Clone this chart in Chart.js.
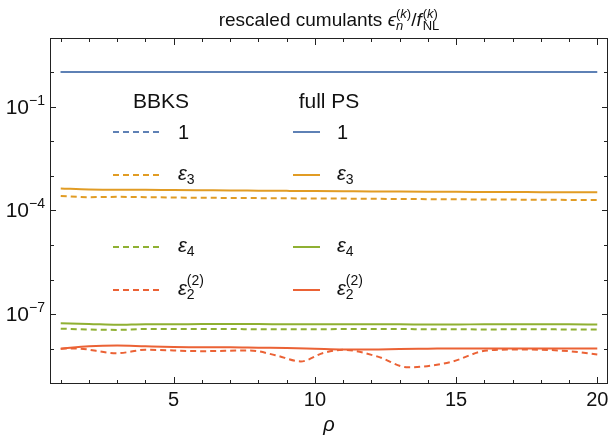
<!DOCTYPE html>
<html>
<head>
<meta charset="utf-8">
<script src="https://cdn.jsdelivr.net/npm/chart.js@4/dist/chart.umd.min.js"></script>
<style>
  body { margin: 0; background: #fff; }
  canvas { display: block; }
</style>
</head>
<body>
<canvas id="chart" width="610" height="447"></canvas>
<script>
// rho values (x)
const RHO = [1, 2, 3, 4, 5, 6, 7, 8, 9, 10, 11, 12, 13, 14, 15, 16, 17, 18, 19, 20];
// the BBKS eps2^(2) curve wiggles more, so it gets its own sampling
const RHO_BBKS_EPS22 = [1, 1.5, 3, 4, 6, 7.7, 8.6, 9.5, 10.3, 11, 12.2, 13.3, 14.8, 16.1, 17.4, 19, 20];

// BBKS (dashed)
const BBKS_ONE = [1, 1, 1, 1, 1, 1, 1, 1, 1, 1, 1, 1, 1, 1, 1, 1, 1, 1, 1, 1];
const BBKS_EPS3 = [2.6e-4, 2.4e-4, 2.45e-4, 2.4e-4, 2.35e-4, 2.3e-4, 2.28e-4, 2.25e-4, 2.22e-4, 2.2e-4,
                   2.18e-4, 2.15e-4, 2.13e-4, 2.1e-4, 2.08e-4, 2.06e-4, 2.04e-4, 2.02e-4, 2.0e-4, 2.0e-4];
const BBKS_EPS4 = [3.8e-8, 3.6e-8, 3.5e-8, 3.7e-8, 3.7e-8, 3.7e-8, 3.7e-8, 3.65e-8, 3.65e-8, 3.65e-8,
                   3.7e-8, 3.7e-8, 3.7e-8, 3.65e-8, 3.65e-8, 3.6e-8, 3.65e-8, 3.65e-8, 3.6e-8, 3.6e-8];
const BBKS_EPS22 = [1.0e-8, 1.02e-8, 7.4e-9, 9.3e-9, 8.5e-9, 8.9e-9, 6.5e-9, 4.3e-9, 7.5e-9, 9.3e-9,
                    6.0e-9, 2.9e-9, 4.1e-9, 8.9e-9, 9.5e-9, 8.5e-9, 6.8e-9];

// full power spectrum (solid)
const FULL_ONE = [1, 1, 1, 1, 1, 1, 1, 1, 1, 1, 1, 1, 1, 1, 1, 1, 1, 1, 1, 1];
const FULL_EPS3 = [4.3e-4, 4.0e-4, 3.95e-4, 3.9e-4, 3.85e-4, 3.8e-4, 3.75e-4, 3.7e-4, 3.65e-4, 3.6e-4,
                   3.55e-4, 3.5e-4, 3.48e-4, 3.45e-4, 3.42e-4, 3.4e-4, 3.37e-4, 3.35e-4, 3.32e-4, 3.3e-4];
const FULL_EPS4 = [5.4e-8, 5.2e-8, 4.9e-8, 5.1e-8, 5.1e-8, 5.15e-8, 5.15e-8, 5.15e-8, 5.1e-8, 5.1e-8,
                   5.1e-8, 5.05e-8, 5.05e-8, 5.0e-8, 5.0e-8, 5.1e-8, 5.1e-8, 5.1e-8, 5.05e-8, 5.0e-8];
const FULL_EPS22 = [1.0e-8, 1.17e-8, 1.23e-8, 1.17e-8, 1.12e-8, 1.1e-8, 1.1e-8, 1.07e-8, 1.05e-8, 1.0e-8,
                    9.5e-9, 9.5e-9, 9.8e-9, 1.0e-8, 1.02e-8, 1.02e-8, 1.02e-8, 1.02e-8, 1.02e-8, 1.02e-8];

// ticks
const X_MAJOR = [5, 10, 15, 20];
const X_MINOR = [1, 2, 3, 4, 6, 7, 8, 9, 11, 12, 13, 14, 16, 17, 18, 19];
const Y_MAJOR_EXP = [-1, -4, -7];
const Y_MINOR_EXP = [0, -2, -3, -5, -6, -8];

const BLUE = '#5e81b5', ORANGE = '#e19c24', GREEN = '#8fb032', RED = '#eb6235';
const FONT = "'Liberation Sans', Arial, sans-serif";

function pts(xs, arr) {
  return xs.map((x, i) => ({ x, y: arr[i] }));
}

function series(xs, data, color, dashed) {
  return {
    data: pts(xs, data),
    borderColor: color,
    borderWidth: 2,
    borderDash: dashed ? [6, 4] : [],
    pointRadius: 0,
    fill: false,
    cubicInterpolationMode: 'monotone'
  };
}

// draws a row of text runs; a run may be {stack:[subRuns, supRuns]}
function runWidth(ctx, r) {
  if (r.stack) {
    return Math.max(...r.stack.map((rs) => rs.reduce((s, q) => s + runWidth(ctx, q), 0)));
  }
  ctx.font = r.f;
  return ctx.measureText(r.t).width + (r.pad || 0);
}

function drawRuns(ctx, runs, x, y, align) {
  let total = runs.reduce((s, r) => s + runWidth(ctx, r), 0);
  let cx = align === 'center' ? x - total / 2 : (align === 'right' ? x - total : x);
  ctx.textBaseline = 'alphabetic';
  ctx.textAlign = 'left';
  runs.forEach((r) => {
    if (r.stack) {
      r.stack.forEach((rs) => {
        let sx = cx;
        rs.forEach((q) => {
          ctx.font = q.f;
          ctx.fillText(q.t, sx, y + (q.dy || 0));
          sx += ctx.measureText(q.t).width;
        });
      });
    } else {
      ctx.font = r.f;
      ctx.fillText(r.t, cx, y + (r.dy || 0));
    }
    cx += runWidth(ctx, r);
  });
}

const decorPlugin = {
  id: 'decor',
  afterDatasetsDraw(chart) {
    const ctx = chart.ctx;
    const a = chart.chartArea;
    const xs = chart.scales.x, ys = chart.scales.y;
    ctx.save();

    // frame
    ctx.strokeStyle = '#222';
    ctx.lineWidth = 1;
    ctx.strokeRect(a.left + 0.5, a.top + 0.5, a.right - a.left - 1, a.bottom - a.top - 1);

    // inward ticks on all four sides
    ctx.beginPath();
    const xt = (v, len) => {
      const p = Math.round(xs.getPixelForValue(v)) + 0.5;
      ctx.moveTo(p, a.bottom); ctx.lineTo(p, a.bottom - len);
      ctx.moveTo(p, a.top); ctx.lineTo(p, a.top + len);
    };
    const yt = (v, len) => {
      const p = Math.round(ys.getPixelForValue(v)) + 0.5;
      ctx.moveTo(a.left, p); ctx.lineTo(a.left + len, p);
      ctx.moveTo(a.right, p); ctx.lineTo(a.right - len, p);
    };
    X_MAJOR.forEach((v) => xt(v, 7));
    X_MINOR.forEach((v) => xt(v, 4));
    Y_MAJOR_EXP.forEach((e) => yt(Math.pow(10, e), 6));
    Y_MINOR_EXP.forEach((e) => yt(Math.pow(10, e), 4));
    ctx.stroke();

    ctx.fillStyle = '#111';
    // x tick labels
    ctx.font = '20px ' + FONT;
    ctx.textAlign = 'center';
    ctx.textBaseline = 'alphabetic';
    X_MAJOR.forEach((v) => ctx.fillText(String(v), xs.getPixelForValue(v), a.bottom + 22));

    // y tick labels 10^e
    Y_MAJOR_EXP.forEach((e) => {
      const p = ys.getPixelForValue(Math.pow(10, e));
      drawRuns(ctx, [
        { t: '10', f: '21px ' + FONT },
        { t: '\u2212' + Math.abs(e), f: '14px ' + FONT, dy: -9 }
      ], a.left - 5, p + 7, 'right');
    });

    // axis label
    drawRuns(ctx, [{ t: '\u03c1', f: 'italic 20px ' + FONT }], (a.left + a.right) / 2, a.bottom + 47, 'center');

    // title
    const tf = '19px ' + FONT, ti = 'italic 19px ' + FONT;
    const sf = '13px ' + FONT, si = 'italic 13px ' + FONT;
    drawRuns(ctx, [
      { t: 'rescaled cumulants ', f: tf },
      { t: '\u03f5', f: ti },
      { stack: [[{ t: 'n', f: si, dy: 4 }], [{ t: '(', f: sf, dy: -8 }, { t: 'k', f: si, dy: -8 }, { t: ')', f: sf, dy: -8 }]] },
      { t: '/', f: tf },
      { t: 'f', f: ti, pad: 1 },
      { stack: [[{ t: 'NL', f: sf, dy: 4 }], [{ t: '(', f: sf, dy: -8 }, { t: 'k', f: si, dy: -8 }, { t: ')', f: sf, dy: -8 }]] }
    ], (a.left + a.right) / 2, 26, 'center');

    // legend
    const hf = '21px ' + FONT, lf = '20px ' + FONT, lif = 'italic 20px ' + FONT, lsf = '14px ' + FONT;
    drawRuns(ctx, [{ t: 'BBKS', f: hf }], 161, 108, 'center');
    drawRuns(ctx, [{ t: 'full PS', f: hf }], 329, 108, 'center');
    const rows = [
      { y: 132, color: BLUE, label: [{ t: '1', f: lf, dy: 7 }] },
      { y: 175, color: ORANGE, label: [{ t: '\u03b5', f: lif, dy: 5 }, { t: '3', f: lsf, dy: 9 }] },
      { y: 247, color: GREEN, label: [{ t: '\u03b5', f: lif, dy: 5 }, { t: '4', f: lsf, dy: 9 }] },
      { y: 290, color: RED, label: [{ t: '\u03b5', f: lif, dy: 5 },
        { stack: [[{ t: '2', f: lsf, dy: 9 }], [{ t: '(2)', f: lsf, dy: -5 }]] }] }
    ];
    rows.forEach((r) => {
      ctx.strokeStyle = r.color;
      ctx.lineWidth = 2;
      ctx.setLineDash([6, 4]);
      ctx.beginPath(); ctx.moveTo(113, r.y); ctx.lineTo(162, r.y); ctx.stroke();
      ctx.setLineDash([]);
      ctx.beginPath(); ctx.moveTo(293, r.y); ctx.lineTo(320, r.y); ctx.stroke();
      ctx.fillStyle = '#111';
      drawRuns(ctx, r.label, 178, r.y, 'left');
      drawRuns(ctx, r.label, 337, r.y, 'left');
    });

    ctx.restore();
  }
};

new Chart(document.getElementById('chart'), {
  type: 'line',
  data: {
    datasets: [
      series(RHO, BBKS_ONE, BLUE, true),
      series(RHO, BBKS_EPS3, ORANGE, true),
      series(RHO, BBKS_EPS4, GREEN, true),
      series(RHO_BBKS_EPS22, BBKS_EPS22, RED, true),
      series(RHO, FULL_ONE, BLUE, false),
      series(RHO, FULL_EPS3, ORANGE, false),
      series(RHO, FULL_EPS4, GREEN, false),
      series(RHO, FULL_EPS22, RED, false)
    ]
  },
  options: {
    responsive: false,
    animation: false,
    devicePixelRatio: 1,
    layout: { padding: { left: 50, right: 2, top: 38, bottom: 63 } },
    plugins: { legend: { display: false }, tooltip: { enabled: false } },
    scales: {
      x: {
        type: 'linear', min: 0.62, max: 20.38,
        ticks: { display: false }, grid: { display: false, drawTicks: false }, border: { display: false }
      },
      y: {
        type: 'logarithmic', min: 9.55e-10, max: 9.55,
        ticks: { display: false }, grid: { display: false, drawTicks: false }, border: { display: false }
      }
    }
  },
  plugins: [decorPlugin]
});
</script>
</body>
</html>
